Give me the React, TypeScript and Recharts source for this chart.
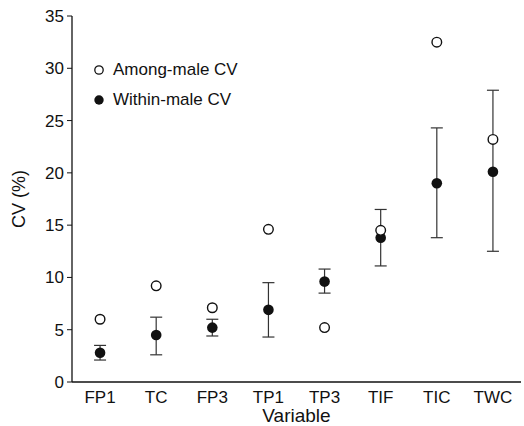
import React from 'react';
import { ComposedChart, Scatter, XAxis, YAxis, ErrorBar } from 'recharts';

const categories = ['FP1', 'TC', 'FP3', 'TP1', 'TP3', 'TIF', 'TIC', 'TWC'];
const amongMale = [6.0, 9.2, 7.1, 14.6, 5.2, 14.5, 32.5, 23.2];
const withinMale = [2.8, 4.5, 5.2, 6.9, 9.6, 13.8, 19.0, 20.1];
const withinLow = [2.1, 2.6, 4.4, 4.3, 8.5, 11.1, 13.8, 12.5];
const withinHigh = [3.5, 6.2, 6.0, 9.5, 10.8, 16.5, 24.3, 27.9];
const yTicks = [0, 5, 10, 15, 20, 25, 30, 35];
const seriesNames = ['Among-male CV', 'Within-male CV'];

const data = categories.map((name, i) => ({
  idx: i,
  name,
  among: amongMale[i],
  within: withinMale[i],
  err: [withinMale[i] - withinLow[i], withinHigh[i] - withinMale[i]],
}));
const xTicks = categories.map((_, i) => i);

const FONT = '"Liberation Sans", Arial, sans-serif';

const OpenDot = (p: any) => (
  <circle cx={p.cx} cy={p.cy} r={4.8} fill="#fff" stroke="#111" strokeWidth={1.4} />
);
const FilledDot = (p: any) => (
  <circle cx={p.cx} cy={p.cy} r={5.3} fill="#111" stroke="none" />
);

const LegendBox = () => (
  <div style={{ position: 'absolute', left: 92, top: 55, fontFamily: FONT, fontSize: 17, color: '#111' }}>
    <div style={{ display: 'flex', alignItems: 'center', height: 30 }}>
      <svg width={21} height={14}>
        <circle cx={7} cy={7} r={4.2} fill="#fff" stroke="#111" strokeWidth={1.3} />
      </svg>
      <span>{seriesNames[0]}</span>
    </div>
    <div style={{ display: 'flex', alignItems: 'center', height: 30 }}>
      <svg width={21} height={14}>
        <circle cx={7} cy={7} r={4.7} fill="#111" />
      </svg>
      <span>{seriesNames[1]}</span>
    </div>
  </div>
);

export default function App() {
  return (
    <div style={{ position: 'absolute', left: 0, top: 0, width: 524, height: 426, background: '#fff' }}>
      <ComposedChart
        width={524}
        height={426}
        data={data}
        margin={{ top: 16, right: 3, bottom: 0, left: 0 }}
      >
        <XAxis
          dataKey="idx"
          type="number"
          domain={[-0.5, 7.5]}
          ticks={xTicks}
          tickFormatter={(v: number) => categories[v] ?? ''}
          height={44}
          tickLine={false}
          axisLine={{ stroke: '#111', strokeWidth: 1.3 }}
          tick={{ fill: '#111', fontSize: 17, fontFamily: FONT }}
          tickMargin={3}
          interval={0}
          label={{ value: 'Variable', position: 'insideBottom', offset: 4, fill: '#111', fontSize: 19, fontFamily: FONT }}
        />
        <YAxis
          type="number"
          domain={[0, 35]}
          ticks={yTicks}
          width={72}
          tickSize={5}
          tickLine={{ stroke: '#111' }}
          axisLine={{ stroke: '#111', strokeWidth: 1.3 }}
          tick={{ fill: '#111', fontSize: 17, fontFamily: FONT }}
          tickMargin={3}
          label={{ value: 'CV (%)', angle: -90, position: 'insideLeft', offset: 19, fill: '#111', fontSize: 18, fontFamily: FONT, style: { textAnchor: 'middle' } }}
        />
        <Scatter name={seriesNames[1]} dataKey="within" shape={<FilledDot />} isAnimationActive={false}>
          <ErrorBar dataKey="err" direction="y" width={6} stroke="#333" strokeWidth={1.2} />
        </Scatter>
        <Scatter name={seriesNames[0]} dataKey="among" shape={<OpenDot />} isAnimationActive={false} />
      </ComposedChart>
      <LegendBox />
    </div>
  );
}
